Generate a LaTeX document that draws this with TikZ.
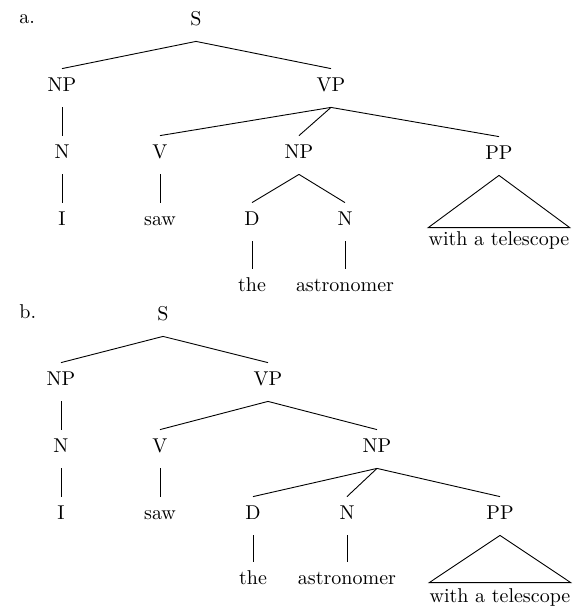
\documentclass[tikz,border=0pt]{standalone}
\begin{document}
\begin{tikzpicture}[x=0.5pt,y=-0.5pt,
  every node/.style={font=\fontsize{10}{12}\selectfont},
  lbl/.style={anchor=base, inner sep=0pt, text height=11pt, text depth=8pt},
  edge/.style={line width=0.45pt}]
\useasboundingbox (0,0) rectangle (576,607);

% ---------- tree a ----------
\node[anchor=base west, inner sep=0pt] (la) at (19,23) {a.};
\node[lbl] (aS) at (196,25) {S};
\node[lbl] (aNP) at (62,91) {NP};
\node[lbl] (aVP) at (331,91) {VP};
\node[lbl] (aN) at (62,158) {N};
\node[lbl] (aV) at (160,158) {V};
\node[lbl] (aNP2) at (299,158) {NP};
\node[lbl] (aPP) at (499,159) {PP};
\node[lbl] (aI) at (62,225) {I};
\node[lbl] (asaw) at (160,225) {saw};
\node[lbl] (aD) at (252,225) {D};
\node[lbl] (aN2) at (345,225) {N};
\node[lbl] (athe) at (252,291) {the};
\node[lbl] (aast) at (345,291) {astronomer};
\node[lbl] (atel) at (499,245) {with a telescope};

\draw[edge] (aS.south) -- (aNP.north);
\draw[edge] (aS.south) -- (aVP.north);
\draw[edge] (aNP.south) -- (aN.north);
\draw[edge] (aN.south) -- (aI.north);
\draw[edge] (aVP.south) -- (aV.north);
\draw[edge] (aVP.south) -- (aNP2.north);
\draw[edge] (aVP.south) -- (aPP.north);
\draw[edge] (aV.south) -- (asaw.north);
\draw[edge] (aNP2.south) -- (aD.north);
\draw[edge] (aNP2.south) -- (aN2.north);
\draw[edge] (aD.south) -- (athe.north);
\draw[edge] (aN2.south) -- (aast.north);
\draw[edge] (aPP.south) -- ([yshift=-2.5pt]atel.north west) -- ([yshift=-2.5pt]atel.north east) -- cycle;

% ---------- tree b ----------
\node[anchor=base west, inner sep=0pt] (lb) at (19,318) {b.};
\node[lbl] (bS) at (163,320) {S};
\node[lbl] (bNP) at (61,385) {NP};
\node[lbl] (bVP) at (268,385) {VP};
\node[lbl] (bN) at (61,452) {N};
\node[lbl] (bV) at (160,452) {V};
\node[lbl] (bNP2) at (377,452) {NP};
\node[lbl] (bI) at (61,519) {I};
\node[lbl] (bsaw) at (160,519) {saw};
\node[lbl] (bD) at (253,519) {D};
\node[lbl] (bN2) at (347,519) {N};
\node[lbl] (bPP) at (500,519) {PP};
\node[lbl] (bthe) at (253,584) {the};
\node[lbl] (bast) at (347,584) {astronomer};
\node[lbl] (btel) at (500,602) {with a telescope};

\draw[edge] (bS.south) -- (bNP.north);
\draw[edge] (bS.south) -- (bVP.north);
\draw[edge] (bNP.south) -- (bN.north);
\draw[edge] (bN.south) -- (bI.north);
\draw[edge] (bVP.south) -- (bV.north);
\draw[edge] (bVP.south) -- (bNP2.north);
\draw[edge] (bV.south) -- (bsaw.north);
\draw[edge] (bNP2.south) -- (bD.north);
\draw[edge] (bNP2.south) -- (bN2.north);
\draw[edge] (bNP2.south) -- (bPP.north);
\draw[edge] (bD.south) -- (bthe.north);
\draw[edge] (bN2.south) -- (bast.north);
\draw[edge] (bPP.south) -- ([yshift=-1.5pt]btel.north west) -- ([yshift=-1.5pt]btel.north east) -- cycle;
\end{tikzpicture}
\end{document}
